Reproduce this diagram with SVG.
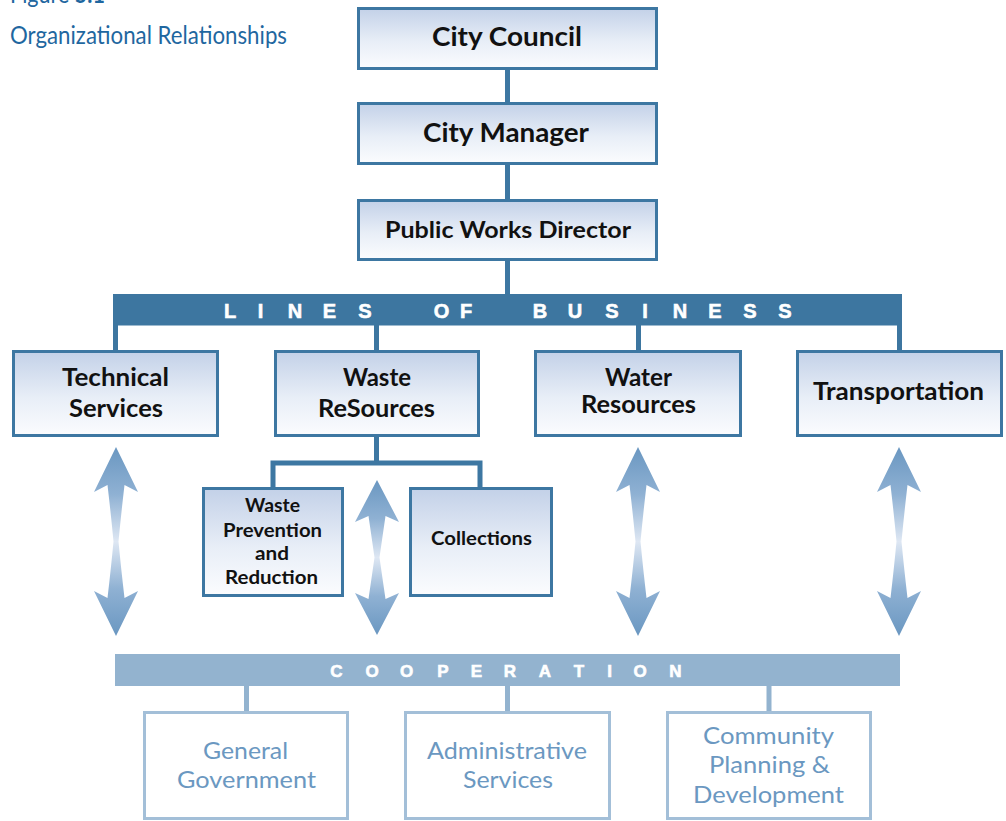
<svg xmlns="http://www.w3.org/2000/svg" width="1006" height="821" viewBox="0 0 1006 821">
  <defs>
    <linearGradient id="boxFill" x1="0" y1="0" x2="0" y2="1">
      <stop offset="0" stop-color="#c3d1e8"/>
      <stop offset="0.55" stop-color="#e8eef7"/>
      <stop offset="1" stop-color="#fbfcfe"/>
    </linearGradient>
    <linearGradient id="arrowFill" x1="0" y1="0" x2="0" y2="1">
      <stop offset="0" stop-color="#6a97c1"/>
      <stop offset="0.25" stop-color="#8fb1d3"/>
      <stop offset="0.5" stop-color="#dee7f3"/>
      <stop offset="0.75" stop-color="#8fb1d3"/>
      <stop offset="1" stop-color="#6a97c1"/>
    </linearGradient>
    <!-- tall double arrow, centred on x=0 -->
    <path id="arrowTall" d="M0 447 L22 492 L8.5 485 Q5 515 2.5 541.5 Q5 568 8.5 598 L22 591 L0 636 L-22 591 L-8.5 598 Q-5 568 -2.5 541.5 Q-5 515 -8.5 485 L-22 492 Z"/>
  </defs>
  <style>
    .box { fill: url(#boxFill); stroke: #3d77a2; stroke-width: 3; }
    .lbox { fill: #ffffff; stroke: #a3bfd8; stroke-width: 3; }
    .lbl { font-family: Lato, "Open Sans", sans-serif; font-weight: 700; fill: #111111; text-anchor: middle; }
    .llbl { font-family: Lato, "Open Sans", sans-serif; font-weight: 400; fill: #6b98c1; text-anchor: middle; font-size: 24px; }
    .bar { font-family: "Liberation Sans", Arial, sans-serif; font-weight: 700; fill: #ffffff; stroke: #ffffff; stroke-width: 0.6; text-anchor: middle; }
    .title { font-family: Lato, "Open Sans", sans-serif; fill: #1f67a0; }
    .wire { fill: none; stroke: #3d77a2; stroke-width: 5; }
    .lwire { fill: none; stroke: #93b3cf; stroke-width: 5; }
    .arrow { fill: url(#arrowFill); }
  </style>

  <rect width="1006" height="821" fill="#ffffff"/>

  <!-- heading (top line runs off the upper edge) -->
  <g id="heading">
    <text class="title" x="10" y="3" font-size="25" textLength="95" lengthAdjust="spacingAndGlyphs">Figure <tspan font-weight="700">5.1</tspan></text>
    <text class="title" x="10" y="44" font-size="25" textLength="277" lengthAdjust="spacingAndGlyphs">Organizational Relationships</text>
  </g>

  <!-- connectors -->
  <g id="connectors">
    <path class="wire" d="M507.5 70 V102 M507.5 165 V199 M507.5 261 V294"/>
    <rect x="113" y="294" width="789" height="31.5" fill="#3d76a0"/>
    <rect x="113" y="325" width="5" height="26" fill="#3d76a0"/>
    <rect x="374" y="325" width="5" height="26" fill="#3d76a0"/>
    <rect x="636" y="325" width="5" height="26" fill="#3d76a0"/>
    <rect x="897" y="325" width="5" height="26" fill="#3d76a0"/>
    <path class="wire" d="M376.5 437 V463 M273 488 V463 H480 V488"/>
    <rect x="115" y="654" width="785" height="32" fill="#93b3cf"/>
    <path class="lwire" d="M246.5 686 V712 M507.5 686 V712 M769 686 V712"/>
    <use href="#arrowTall" class="arrow" x="116"/>
    <use href="#arrowTall" class="arrow" x="638"/>
    <use href="#arrowTall" class="arrow" x="899"/>
    <path class="arrow" transform="translate(377 0)" d="M0 480 L22 522 L8.5 516 Q5 540 2.5 557.5 Q5 575 8.5 599 L22 593 L0 635 L-22 593 L-8.5 599 Q-5 575 -2.5 557.5 Q-5 540 -8.5 516 L-22 522 Z"/>
  </g>

  <!-- band captions -->
  <text id="lines-of-business" class="bar" y="318" font-size="20" x="230 245 260.5 278 295 312 329.5 347 365 403 441.5 452 466 503 540 557 575 593 612 628 645 662 680 697 715 732 750 767 785">L I N E S   O F   B U S I N E S S</text>
  <text id="cooperation" class="bar" y="677" font-size="17" x="336.5 354 372 389 406.5 425 443 460 476.5 493 510 527 545 562 579 594 609.5 625 640 657 675.5">C O O P E R A T I O N</text>

  <g id="city-council">
    <rect class="box" x="358.5" y="8.5" width="298" height="60"/>
    <text class="lbl" x="507" y="45.5" font-size="27" textLength="150" lengthAdjust="spacingAndGlyphs">City Council</text>
  </g>
  <g id="city-manager">
    <rect class="box" x="358.5" y="103.5" width="298" height="60"/>
    <text class="lbl" x="506" y="142" font-size="27" textLength="166" lengthAdjust="spacingAndGlyphs">City Manager</text>
  </g>
  <g id="public-works-director">
    <rect class="box" x="358.5" y="200.5" width="298" height="59"/>
    <text class="lbl" x="508" y="238" font-size="22" textLength="246" lengthAdjust="spacingAndGlyphs">Public Works Director</text>
  </g>

  <g id="technical-services">
    <rect class="box" x="13.5" y="351.5" width="204" height="84"/>
    <text class="lbl" x="115.5" y="386" font-size="24" textLength="107" lengthAdjust="spacingAndGlyphs">Technical</text>
    <text class="lbl" x="116" y="416.5" font-size="24" textLength="94" lengthAdjust="spacingAndGlyphs">Services</text>
  </g>
  <g id="waste-resources">
    <rect class="box" x="275.5" y="351.5" width="203" height="84"/>
    <text class="lbl" x="377" y="386" font-size="24" textLength="68" lengthAdjust="spacingAndGlyphs">Waste</text>
    <text class="lbl" x="376.5" y="416.5" font-size="24" textLength="117" lengthAdjust="spacingAndGlyphs">ReSources</text>
  </g>
  <g id="water-resources">
    <rect class="box" x="535.5" y="351.5" width="205" height="84"/>
    <text class="lbl" x="638.5" y="386" font-size="24" textLength="67" lengthAdjust="spacingAndGlyphs">Water</text>
    <text class="lbl" x="638.5" y="413" font-size="24" textLength="115" lengthAdjust="spacingAndGlyphs">Resources</text>
  </g>
  <g id="transportation">
    <rect class="box" x="797.5" y="351.5" width="204" height="84"/>
    <text class="lbl" x="898.5" y="400" font-size="24" textLength="171" lengthAdjust="spacingAndGlyphs">Transportation</text>
  </g>

  <g id="waste-prevention">
    <rect class="box" x="203.5" y="488.5" width="139" height="107"/>
    <text class="lbl" x="272.5" y="512" font-size="18.5" textLength="55" lengthAdjust="spacingAndGlyphs">Waste</text>
    <text class="lbl" x="272.5" y="536.5" font-size="18.5" textLength="99" lengthAdjust="spacingAndGlyphs">Prevention</text>
    <text class="lbl" x="272" y="560" font-size="18.5" textLength="34" lengthAdjust="spacingAndGlyphs">and</text>
    <text class="lbl" x="271.5" y="584" font-size="18.5" textLength="93" lengthAdjust="spacingAndGlyphs">Reduction</text>
  </g>
  <g id="collections">
    <rect class="box" x="410.5" y="488.5" width="141" height="107"/>
    <text class="lbl" x="481.5" y="545" font-size="18.5" textLength="101" lengthAdjust="spacingAndGlyphs">Collections</text>
  </g>

  <g id="general-government">
    <rect class="lbox" x="144.5" y="712.5" width="203" height="106"/>
    <text class="llbl" x="245.5" y="759" textLength="85" lengthAdjust="spacingAndGlyphs">General</text>
    <text class="llbl" x="246.5" y="788" textLength="139" lengthAdjust="spacingAndGlyphs">Government</text>
  </g>
  <g id="administrative-services">
    <rect class="lbox" x="405.5" y="712.5" width="204" height="106"/>
    <text class="llbl" x="507" y="759" textLength="160" lengthAdjust="spacingAndGlyphs">Administrative</text>
    <text class="llbl" x="508" y="788" textLength="90" lengthAdjust="spacingAndGlyphs">Services</text>
  </g>
  <g id="community-planning">
    <rect class="lbox" x="667.5" y="712.5" width="203" height="106"/>
    <text class="llbl" x="768.5" y="744" textLength="131" lengthAdjust="spacingAndGlyphs">Community</text>
    <text class="llbl" x="769.5" y="773" textLength="121" lengthAdjust="spacingAndGlyphs">Planning &amp;</text>
    <text class="llbl" x="768.5" y="803" textLength="151" lengthAdjust="spacingAndGlyphs">Development</text>
  </g>
</svg>
